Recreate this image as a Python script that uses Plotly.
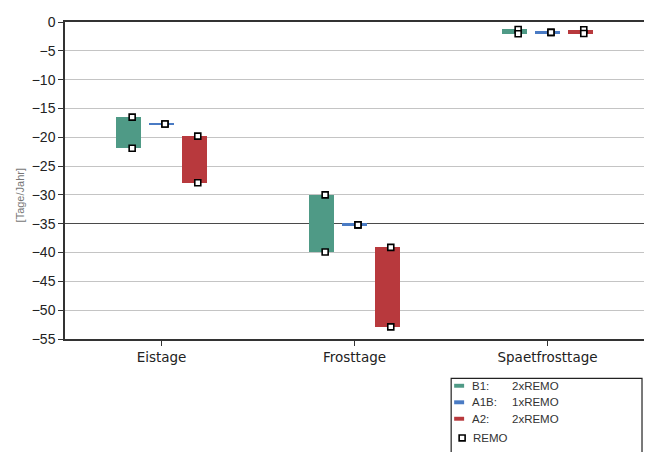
import plotly.graph_objects as go

# ---- data ----
categories = ["Eistage", "Frosttage", "Spaetfrosttage"]
b1_hi = [-16.5, -30.0, -1.3]
b1_lo = [-21.9, -39.9, -2.05]
a1b_val = [-17.7, -35.2, -1.8]
a2_hi = [-19.8, -39.1, -1.35]
a2_lo = [-27.9, -52.9, -2.0]
yticks = [0, -5, -10, -15, -20, -25, -30, -35, -40, -45, -50, -55]
dark_grid = [-35]

# ---- styling / layout constants ----
C_B1 = "#4f9a86"
C_A1B = "#4a7bc4"
C_A2 = "#b8393d"
BAR_W = 0.129
OFFS = {"B1": -0.17, "A1B": 0.0, "A2": 0.17}
MARK_DX = 0.018
MIN_H = 0.5
PAGE_OFF = 8  # default body margin of the html page

fig = go.Figure()

# invisible trace that anchors the overlay axis carrying the dark grid line
fig.add_trace(go.Scatter(x=[None], y=[None], yaxis="y2", showlegend=False,
                         hoverinfo="skip", mode="markers"))

def add_range(name, lo, hi, color, off):
    xs = [i + off for i in range(len(categories))]
    bases, heights = [], []
    for l, h in zip(lo, hi):
        lo_, hi_ = min(l, h), max(l, h)
        if hi_ - lo_ < MIN_H:
            mid = (hi_ + lo_) / 2
            lo_, hi_ = mid - MIN_H / 2, mid + MIN_H / 2
        bases.append(lo_)
        heights.append(hi_ - lo_)
    fig.add_trace(go.Bar(x=xs, y=heights, base=bases, width=BAR_W,
                         marker=dict(color=color, line=dict(width=0)),
                         name=name, showlegend=False))
    mx, my = [], []
    for x, l, h in zip(xs, lo, hi):
        mx += [x + MARK_DX, x + MARK_DX]
        my += [h, l]
    fig.add_trace(go.Scatter(x=mx, y=my, mode="markers", showlegend=False,
                             marker=dict(symbol="square", size=6, color="white",
                                         line=dict(color="black", width=1.6))))

add_range("B1", b1_lo, b1_hi, C_B1, OFFS["B1"])
add_range("A1B", a1b_val, a1b_val, C_A1B, OFFS["A1B"])
add_range("A2", a2_lo, a2_hi, C_A2, OFFS["A2"])

# ---- custom legend (positions given in page pixels of the reference) ----
def px_x(p):
    return (p - 65) / 581.0

def px_y(p):
    return (339 - p) / 322.0

LEG_FONT = dict(family="Liberation Sans", size=11.5, color="#333333")
fig.add_shape(type="rect", xref="paper", yref="paper",
              x0=px_x(452.5), x1=px_x(644), y0=px_y(379), y1=px_y(470),
              line=dict(color="#222222", width=1.2), fillcolor="white")
leg_rows = [("B1:", "2xREMO", C_B1, 386.5),
            ("A1B:", "1xREMO", C_A1B, 403.3),
            ("A2:", "2xREMO", C_A2, 420.0)]
for lab, txt, col, yy in leg_rows:
    fig.add_shape(type="rect", xref="paper", yref="paper",
                  x0=px_x(455.5), x1=px_x(465.5), y0=px_y(yy + 2), y1=px_y(yy - 2),
                  line=dict(width=0), fillcolor=col)
    fig.add_annotation(xref="paper", yref="paper", x=px_x(471), y=px_y(yy),
                       text=lab, showarrow=False, xanchor="left", yanchor="middle",
                       font=LEG_FONT)
    fig.add_annotation(xref="paper", yref="paper", x=px_x(511.5), y=px_y(yy),
                       text=txt, showarrow=False, xanchor="left", yanchor="middle",
                       font=LEG_FONT)
fig.add_shape(type="rect", xref="paper", yref="paper",
              x0=px_x(460.5), x1=px_x(466.5), y0=px_y(442.5), y1=px_y(436.5),
              line=dict(color="black", width=1.6), fillcolor="white")
fig.add_annotation(xref="paper", yref="paper", x=px_x(472), y=px_y(439.5),
                   text="REMO", showarrow=False, xanchor="left", yanchor="middle",
                   font=LEG_FONT)

# y-axis title
fig.add_annotation(xref="paper", yref="paper", x=px_x(20), y=px_y(193),
                   text="[Tage/Jahr]", showarrow=False, textangle=-90,
                   xanchor="center", yanchor="middle",
                   font=dict(family="Liberation Sans", size=11, color="#777777"))

W, H = 652 - PAGE_OFF, 452 - PAGE_OFF
fig.update_layout(
    width=W, height=H,
    margin=dict(l=65 - PAGE_OFF, r=W - (646 - PAGE_OFF), t=17 - PAGE_OFF,
                b=H - (339 - PAGE_OFF), pad=0),
    plot_bgcolor="white", paper_bgcolor="white",
    barmode="overlay", bargap=0,
    showlegend=False,
    xaxis=dict(range=[-0.5, 2.5], tickmode="array",
               tickvals=list(range(len(categories))),
               ticktext=categories, showgrid=False, zeroline=False,
               showline=True, mirror=True, linecolor="#333333", linewidth=1.5,
               ticks="outside", ticklen=5, tickcolor="#333333",
               tickfont=dict(family="DejaVu Sans", size=13.5, color="#222222")),
    yaxis=dict(range=[-55, 0], tickmode="array", tickvals=yticks,
               showgrid=True, gridcolor="#c4c4c4", gridwidth=1.2, zeroline=False,
               showline=True, mirror=True, linecolor="#333333", linewidth=1.5,
               ticks="outside", ticklen=5, tickcolor="#333333",
               tickfont=dict(family="Liberation Sans", size=14, color="#222222")),
    yaxis2=dict(range=[-55, 0], overlaying="y", side="right", tickmode="array",
                tickvals=dark_grid, showticklabels=False, ticks="",
                showgrid=True, gridcolor="#4a4a4a", gridwidth=1.2,
                zeroline=False, showline=False),
)

fig.write_html("out.html")
